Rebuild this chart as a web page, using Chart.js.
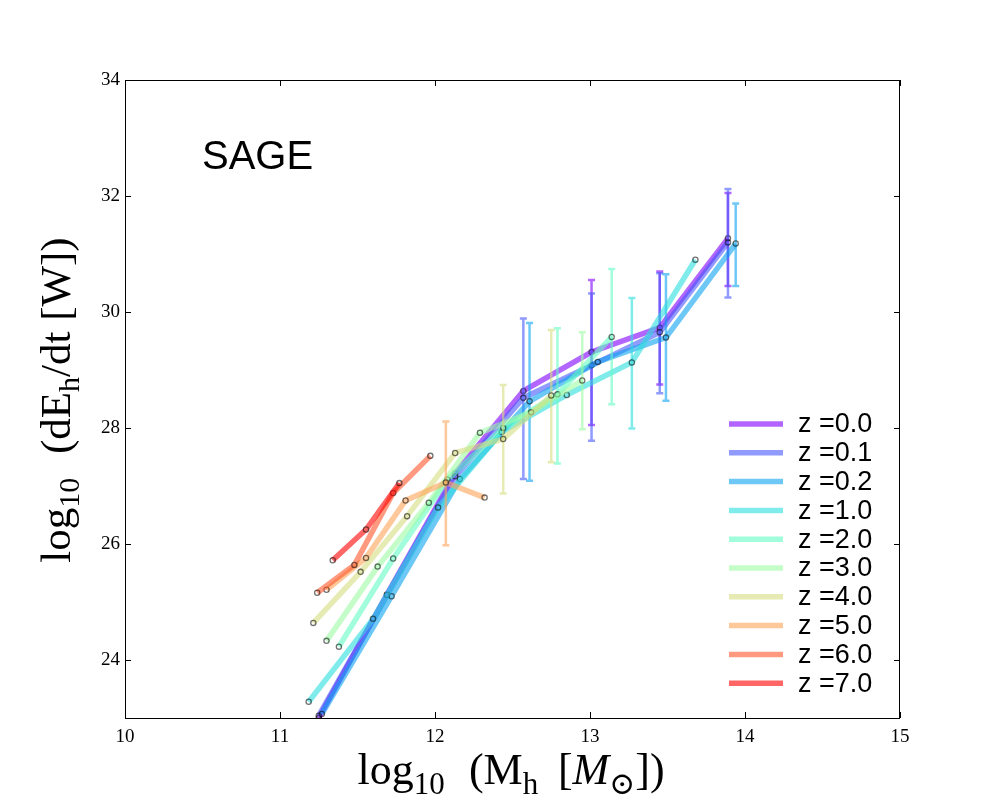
<!DOCTYPE html>
<html>
<head>
<meta charset="utf-8">
<script src="https://cdn.jsdelivr.net/npm/chart.js@4/dist/chart.umd.min.js"></script>
<style>
  html, body { margin: 0; background: #fff; }
  #wrap { width: 1000px; height: 800px; }
</style>
</head>
<body>
<div id="wrap"><canvas id="chart"></canvas></div>
<script>
// --- axis ticks ---
const xTicks = [10, 11, 12, 13, 14, 15];
const yTicks = [24, 26, 28, 30, 32, 34];

// --- series: log10 halo mass, log10 heating power, error bar low/high ---
const zLabels = ['z =0.0', 'z =0.1', 'z =0.2', 'z =1.0', 'z =2.0', 'z =3.0', 'z =4.0', 'z =5.0', 'z =6.0', 'z =7.0'];

const mass_z00 = [11.25, 11.69, 12.13, 12.57, 13.01, 13.45, 13.89];
const pow_z00 = [23.00, 25.13, 27.22, 28.64, 29.31, 29.73, 31.27];
const errLo_z00 = [null, null, null, null, 28.05, 28.75, 30.45];
const errHi_z00 = [null, null, null, null, 30.55, 30.70, 32.05];

const mass_z01 = [11.25, 11.69, 12.13, 12.57, 13.01, 13.45, 13.89];
const pow_z01 = [23.04, 25.12, 27.17, 28.52, 29.08, 29.65, 31.20];
const errLo_z01 = [null, null, null, 27.12, 27.78, 28.60, 30.25];
const errHi_z01 = [null, null, null, 29.89, 30.32, 30.67, 32.12];

const mass_z02 = [11.27, 11.72, 12.16, 12.61, 13.05, 13.49, 13.94];
const pow_z02 = [23.07, 25.10, 27.12, 28.46, 29.14, 29.56, 31.18];
const errLo_z02 = [null, null, null, 27.09, null, 28.47, 30.45];
const errHi_z02 = [null, null, null, 29.81, null, 30.65, 31.87];

const mass_z1 = [11.185, 11.60, 12.02, 12.43, 12.85, 13.27, 13.68];
const pow_z1 = [23.28, 24.71, 26.63, 27.93, 28.57, 29.13, 30.90];
const errLo_z1 = [null, null, null, null, null, 27.99, null];
const errHi_z1 = [null, null, null, null, null, 30.24, null];

const mass_z2 = [11.38, 11.73, 12.08, 12.44, 12.79, 13.14];
const pow_z2 = [24.23, 25.75, 27.11, 28.00, 28.58, 29.57];
const errLo_z2 = [null, null, null, null, 27.39, 28.41];
const errHi_z2 = [null, null, null, null, 29.72, 30.74];

const mass_z3 = [11.30, 11.63, 11.96, 12.29, 12.62, 12.95];
const pow_z3 = [24.33, 25.61, 26.71, 27.92, 28.27, 28.82];
const errLo_z3 = [null, null, null, null, null, 27.98];
const errHi_z3 = [null, null, null, null, null, 29.65];

const mass_z4 = [11.215, 11.52, 11.82, 12.13, 12.44, 12.75];
const pow_z4 = [24.64, 25.52, 26.48, 27.57, 27.81, 28.56];
const errLo_z4 = [null, null, null, null, 26.87, 27.41];
const errHi_z4 = [null, null, null, null, 28.74, 29.69];

const mass_z5 = [11.30, 11.555, 11.81, 12.07, 12.32];
const pow_z5 = [25.21, 25.76, 26.75, 27.06, 26.80];
const errLo_z5 = [null, null, null, 25.98, null];
const errHi_z5 = [null, null, null, 28.11, null];

const mass_z6 = [11.24, 11.48, 11.73, 11.97];
const pow_z6 = [25.16, 25.64, 26.88, 27.52];

const mass_z7 = [11.34, 11.555, 11.77];
const pow_z7 = [25.72, 26.25, 27.05];

// rainbow colormap, alpha 0.6
const lineColors = [
    'rgba(128,0,255,0.6)', 'rgba(71,87,251,0.6)', 'rgba(14,164,240,0.6)', 'rgba(43,221,221,0.6)',
    'rgba(99,251,195,0.6)', 'rgba(156,251,164,0.6)', 'rgba(213,221,128,0.6)', 'rgba(255,164,87,0.6)',
    'rgba(255,87,44,0.6)', 'rgba(255,0,0,0.6)'
];

const series = [
    [mass_z00, pow_z00, errLo_z00, errHi_z00],
    [mass_z01, pow_z01, errLo_z01, errHi_z01],
    [mass_z02, pow_z02, errLo_z02, errHi_z02],
    [mass_z1, pow_z1, errLo_z1, errHi_z1],
    [mass_z2, pow_z2, errLo_z2, errHi_z2],
    [mass_z3, pow_z3, errLo_z3, errHi_z3],
    [mass_z4, pow_z4, errLo_z4, errHi_z4],
    [mass_z5, pow_z5, errLo_z5, errHi_z5],
    [mass_z6, pow_z6, [], []],
    [mass_z7, pow_z7, [], []],
];

const SERIF = '"Liberation Serif", "DejaVu Serif", serif';
const SANS = '"Liberation Sans", Arial, sans-serif';

const datasets = series.map(([xs, ys, lo, hi], i) => ({
    label: zLabels[i],
    data: xs.map((x, k) => ({ x, y: ys[k], lo: lo[k] ?? null, hi: hi[k] ?? null })),
    borderColor: lineColors[i],
    backgroundColor: lineColors[i],
    borderWidth: 5.5,
    pointRadius: 2.6,
    pointBorderWidth: 1.3,
    pointBackgroundColor: 'rgba(0,0,0,0)',
    pointBorderColor: 'rgba(0,0,0,0.55)',
    tension: 0,
    order: 10 - i,
}));

// error bars under each line
const errorBars = {
    id: 'errorBars',
    beforeDatasetDraw(chart, args) {
        const { ctx, chartArea: a, scales: { x, y } } = chart;
        const ds = chart.data.datasets[args.index];
        ctx.save();
        ctx.beginPath();
        ctx.rect(a.left, a.top, a.right - a.left, a.bottom - a.top);
        ctx.clip();
        ctx.strokeStyle = ds.borderColor;
        ctx.lineWidth = 2.5;
        ds.data.forEach(d => {
            if (d.lo == null) return;
            const px = x.getPixelForValue(d.x);
            const y0 = y.getPixelForValue(d.lo), y1 = y.getPixelForValue(d.hi);
            ctx.beginPath();
            ctx.moveTo(px, y0); ctx.lineTo(px, y1);
            ctx.moveTo(px - 3.5, y0); ctx.lineTo(px + 3.5, y0);
            ctx.moveTo(px - 3.5, y1); ctx.lineTo(px + 3.5, y1);
            ctx.stroke();
        });
        ctx.restore();
    }
};

// mathtext-like label with subscripts
function drawRich(ctx, parts, size) {
    const fontOf = p => `${p.it ? 'italic ' : ''}${p.sub ? Math.round(size * 0.7) : size}px ${SERIF}`;
    let total = 0;
    parts.forEach(p => { ctx.font = fontOf(p); p.w = ctx.measureText(p.t).width + (p.gap || 0) * size; total += p.w; });
    let cx = -total / 2;
    ctx.textAlign = 'left';
    ctx.textBaseline = 'alphabetic';
    parts.forEach(p => {
        ctx.font = fontOf(p);
        ctx.fillText(p.t, cx, p.sub ? size * 0.22 : 0);
        cx += p.w;
    });
}

const frameAndText = {
    id: 'frameAndText',
    afterDraw(chart) {
        const { ctx, chartArea: a, scales: { x, y } } = chart;
        ctx.save();
        ctx.strokeStyle = '#000';
        ctx.lineWidth = 1;
        ctx.strokeRect(a.left + 0.5, a.top + 0.5, a.right - a.left - 1, a.bottom - a.top);
        // inward ticks on all sides
        const len = 6;
        ctx.beginPath();
        xTicks.forEach(v => {
            const px = Math.round(x.getPixelForValue(v)) + 0.5;
            ctx.moveTo(px, a.bottom); ctx.lineTo(px, a.bottom - len);
            ctx.moveTo(px, a.top); ctx.lineTo(px, a.top + len);
        });
        yTicks.forEach(v => {
            const py = Math.round(y.getPixelForValue(v)) + 0.5;
            ctx.moveTo(a.left, py); ctx.lineTo(a.left + len, py);
            ctx.moveTo(a.right, py); ctx.lineTo(a.right - len, py);
        });
        ctx.stroke();

        // panel label
        ctx.fillStyle = '#000';
        ctx.font = `40px ${SANS}`;
        ctx.textAlign = 'left';
        ctx.textBaseline = 'alphabetic';
        ctx.fillText('SAGE', 202, 169);

        // legend
        ctx.font = `27px ${SANS}`;
        ctx.textBaseline = 'middle';
        chart.data.datasets.forEach((ds, i) => {
            const ly = 424 + i * 28.8;
            ctx.strokeStyle = ds.borderColor;
            ctx.lineWidth = 5.5;
            ctx.beginPath();
            ctx.moveTo(729, ly); ctx.lineTo(783, ly);
            ctx.stroke();
            ctx.fillStyle = '#000';
            ctx.fillText(ds.label, 798, ly + 1);
        });

        // axis titles
        ctx.fillStyle = '#000';
        ctx.save();
        ctx.translate(511, 784);
        drawRich(ctx, [
            { t: 'log' }, { t: '10', sub: true, gap: 0.3 }, { t: ' (M' }, { t: 'h', sub: true, gap: 0.2 },
            { t: ' [' }, { t: 'M', it: true }, { t: '\u2299', sub: true }, { t: '])' }
        ], 44);
        ctx.restore();
        ctx.save();
        ctx.translate(70, 400);
        ctx.rotate(-Math.PI / 2);
        drawRich(ctx, [
            { t: 'log' }, { t: '10', sub: true, gap: 0.3 }, { t: ' (dE' }, { t: 'h', sub: true }, { t: '/dt [W])' }
        ], 43);
        ctx.restore();
        ctx.restore();
    }
};

new Chart(document.getElementById('chart'), {
    type: 'line',
    data: { datasets },
    options: {
        responsive: true,
        maintainAspectRatio: false,
        animation: false,
        layout: { padding: { top: 80, right: 100, left: 0, bottom: 0 } },
        plugins: { legend: { display: false }, tooltip: { enabled: false } },
        scales: {
            x: {
                type: 'linear',
                min: 10, max: 15,
                afterBuildTicks: s => { s.ticks = xTicks.map(v => ({ value: v })); },
                afterFit: s => { s.height = 82; },
                grid: { display: false, drawTicks: false },
                border: { display: false },
                ticks: { color: '#000', padding: 8, maxRotation: 0, font: { family: SERIF, size: 19 } },
            },
            y: {
                type: 'linear',
                min: 23, max: 34,
                afterBuildTicks: s => { s.ticks = yTicks.map(v => ({ value: v })); },
                afterFit: s => { s.width = 125; },
                grid: { display: false, drawTicks: false },
                border: { display: false },
                ticks: { color: '#000', padding: 5, font: { family: SERIF, size: 19 } },
            }
        }
    },
    plugins: [errorBars, frameAndText]
});
</script>
</body>
</html>
